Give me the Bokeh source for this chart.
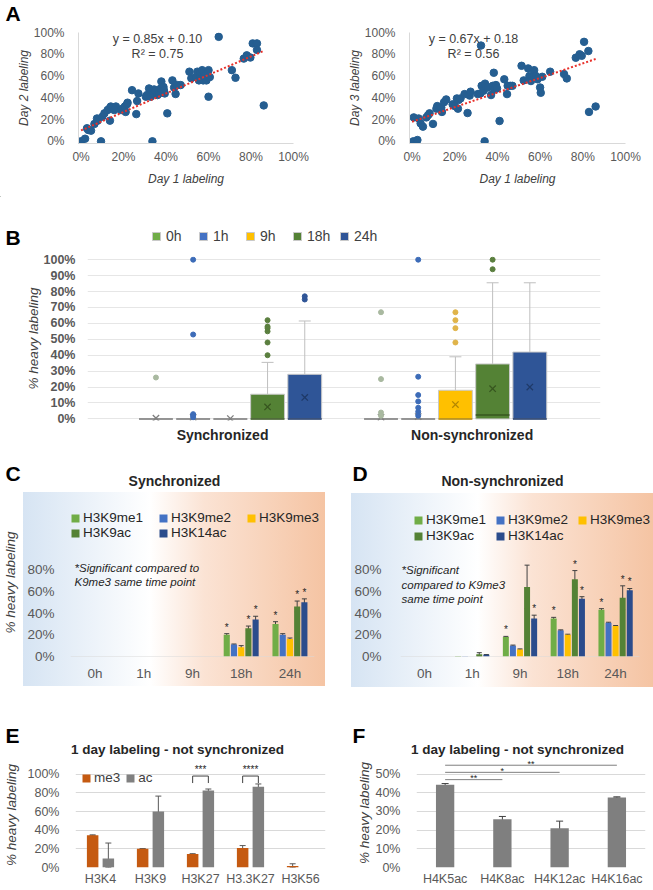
from bokeh.plotting import figure
from bokeh.layouts import column, row
from bokeh.models import (Range1d, ColumnDataSource, Label, Legend, LegendItem,
                          Whisker, TeeHead, NumeralTickFormatter, FixedTicker)
from bokeh.core.properties import value
from bokeh.embed import file_html
from bokeh.resources import INLINE

FONT = "Liberation Sans"
TICK = "#595959"

# ---------------- Panel A data ----------------
a1_day1 = [0, 1.9, 2.8, 3.4, 4.7, 6.3, 7.5, 7.8, 9.4, 10, 11, 12.5, 13.3, 14, 13.6, 14.8, 16.4, 15.6,
           18.8, 19.5, 20.6, 21.6, 21.9, 21, 24, 26, 26.4, 27, 30.5, 31, 32, 32.8, 33.6, 34, 34.4, 35,
           36, 36.7, 37.5, 37.8, 38.8, 39, 39.4, 40.6, 43, 43.8, 44.5, 45.3, 46.9, 51, 51.9, 54, 54.7,
           55.5, 56, 56.3, 57, 57.5, 58, 59, 60, 60.6, 60, 64.8, 71, 72.7, 76.6, 78, 79.7, 80.8, 82.8,
           82.8, 86]
a1_day2 = [0, 2.4, 12, 10.4, 9.8, 16, 21, 19, 0, 22.6, 25.7, 28.7, 30, 32, 19, 31, 32, 28.7,
           28.7, 30, 32, 34, 35.5, 27, 47, 25, 37, 44, 41, 42.5, 48.6, 41, 0, 44, 47.7, 46.5,
           42.5, 44, 48.6, 55, 50, 47, 44, 25.7, 56, 49.5, 43.5, 51.7, 51.7, 64, 58, 59, 64,
           56, 61, 64, 65.4, 56, 60, 56, 65.4, 59, 41, 96, 65.4, 58.4, 76, 79, 77, 90, 90,
           84, 33]
a1_slope, a1_icpt, a1_r2 = 0.85, 0.10, 0.75

a2_day1 = [0.8, 0.6, 2.5, 3.1, 4, 5.1, 6.7, 7.5, 8.2, 9.8, 11.4, 11.8, 12.9, 13.7, 14, 15, 16, 19,
           20, 21, 21.8, 21.5, 22.7, 24.6, 26, 27, 27.4, 30.8, 32, 32.3, 32.6, 33.5, 34, 34.2, 34.7,
           35.5, 37, 37.8, 38.3, 38.6, 39.3, 39.8, 41, 43.2, 44.5, 44.8, 46, 47, 51.3, 52.3, 54.4,
           55, 55.7, 57, 57.2, 58, 58.8, 60, 60.3, 61, 64.7, 71.2, 72.5, 76.7, 78.5, 79.5, 80.6,
           82.6, 82.9, 86]
a2_day3 = [22, 0, 1.2, 21, 16.5, 13.5, 22, 24, 25.7, 16, 30, 32.4, 31, 31, 27, 36, 38.5, 34,
           32.4, 39.4, 38, 30, 39.4, 43.4, 26, 42, 45.6, 43.4, 44, 88, 51, 46.5, 0, 53, 50,
           49.5, 42.5, 51, 63, 47.7, 51.7, 48.6, 18.7, 57, 43.4, 51, 51, 51, 69.4, 56, 67,
           60, 55.4, 60, 65.4, 60, 57, 49.5, 44.6, 59.3, 64, 61.8, 57.8, 76.8, 80, 78.6, 91.4,
           83, 27, 32]
a2_slope, a2_icpt, a2_r2 = 0.67, 0.18, 0.56
pct_ticks = [0, 0.2, 0.4, 0.6, 0.8, 1.0]

# ---------------- Panel B data ----------------
b_series = ["0h", "1h", "9h", "18h", "24h"]
b_groups = ["Synchronized", "Non-synchronized"]
b_colors = ["#70AD47", "#4472C4", "#FFC000", "#548235", "#2F5597"]
b_dark = ["#4e7a32", "#2f5597", "#b38600", "#37561f", "#1f3a68"]
b_out_colors = ["#a9b9a0", "#3d6cb8", "#e0b44a", "#5b7f3f", "#2f5597"]
sync_q1 = [0, 0, 0, 0, 0]
sync_median = [0, 0, 0, 0, 0]
sync_q3 = [0, 0, 0, 0.155, 0.28]
sync_hi = [0, 0, 0, 0.355, 0.615]
sync_mean = [0.005, 0.01, 0.002, 0.075, 0.135]
sync_outliers = [[0.26], [1.0, 0.53, 0.03, 0.02, 0.01], [], [0.40, 0.48, 0.55, 0.57, 0.58, 0.62], [0.75, 0.77]]
nons_q1 = [0, 0, 0, 0, 0]
nons_median = [0, 0, 0, 0.025, 0]
nons_q3 = [0, 0, 0.18, 0.345, 0.42]
nons_hi = [0, 0, 0.39, 0.855, 0.855]
nons_mean = [0.01, 0.015, 0.09, 0.19, 0.20]
nons_outliers = [[0.67, 0.25, 0.04, 0.02], [1.0, 0.265, 0.15, 0.11, 0.07, 0.045, 0.02],
                 [0.48, 0.57, 0.62, 0.67], [0.94, 1.0], []]
b_ticks = [round(x / 10, 1) for x in range(11)]

# ---------------- Panels C / D data ----------------
cd_times = ["0h", "1h", "9h", "18h", "24h"]
cd_marks = ["H3K9me1", "H3K9me2", "H3K9me3", "H3K9ac", "H3K14ac"]
cd_colors = ["#70AD47", "#4472C4", "#FFC000", "#548235", "#2B4C8C"]
c_vals = [[0, 0, 0, 0.20, 0.30],
          [0, 0, 0, 0.11, 0.20],
          [0, 0, 0, 0.085, 0.16],
          [0, 0, 0, 0.26, 0.46],
          [0, 0, 0, 0.34, 0.50]]
c_errs = [[0, 0, 0, 0.01, 0.02],
          [0, 0, 0, 0.005, 0.01],
          [0, 0, 0, 0.015, 0.01],
          [0, 0, 0, 0.02, 0.05],
          [0, 0, 0, 0.03, 0.03]]
c_sig = [[0, 0, 0, 1, 1], [0, 0, 0, 0, 0], [0, 0, 0, 0, 0], [0, 0, 0, 1, 1], [0, 0, 0, 1, 1]]
d_vals = [[0, 0.005, 0.18, 0.35, 0.43],
          [0, 0.003, 0.10, 0.24, 0.31],
          [0, 0.001, 0.065, 0.20, 0.28],
          [0, 0.02, 0.64, 0.71, 0.54],
          [0, 0.015, 0.35, 0.53, 0.61]]
d_errs = [[0, 0, 0.005, 0.01, 0.01],
          [0, 0, 0.005, 0.005, 0.005],
          [0, 0, 0.005, 0.005, 0.005],
          [0, 0.015, 0.20, 0.08, 0.11],
          [0, 0.003, 0.03, 0.02, 0.015]]
d_sig = [[0, 0, 1, 1, 1], [0, 0, 0, 0, 0], [0, 0, 0, 0, 0], [0, 0, 0, 1, 1], [0, 0, 1, 1, 1]]
cd_ticks = [0, 0.2, 0.4, 0.6, 0.8]

# ---------------- Panel E data ----------------
e_marks = ["H3K4", "H3K9", "H3K27", "H3.3K27", "H3K56"]
e_me3 = [0.345, 0.20, 0.144, 0.21, 0.015]
e_me3_err = [0.005, 0.003, 0.004, 0.025, 0.025]
e_ac = [0.097, 0.60, 0.826, 0.865, 0.0]
e_ac_err = [0.165, 0.165, 0.015, 0.03, 0.0]
e_brk_idx = [2, 3]
e_brk_text = ["***", "****"]
e_brk_top, e_brk_low = 0.98, 0.905
e_ticks = [0, 0.2, 0.4, 0.6, 0.8, 1.0]

# ---------------- Panel F data ----------------
f_marks = ["H4K5ac", "H4K8ac", "H4K12ac", "H4K16ac"]
f_vals = [0.443, 0.258, 0.21, 0.375]
f_errs = [0.006, 0.015, 0.038, 0.003]
f_cmp_to = [3, 2, 1]
f_cmp_y = [0.547, 0.509, 0.47]
f_cmp_text = ["**", "*", "**"]
f_ticks = [0, 0.1, 0.2, 0.3, 0.4, 0.5]


def base_fig(w, h, l, r, t, b, xr, yr):
    p = figure(width=w, height=h, x_range=xr, y_range=yr, output_backend="svg",
               toolbar_location=None, min_border_left=l, min_border_right=r,
               min_border_top=t, min_border_bottom=b)
    p.outline_line_color = None
    p.grid.grid_line_color = None
    for ax in p.axis:
        ax.major_tick_line_color = None
        ax.minor_tick_line_color = None
        ax.axis_line_color = None
        ax.major_label_text_font = FONT
        ax.major_label_text_color = TICK
        ax.axis_label_text_font = FONT
    return p


def header(top, h):
    # strip whose data coordinates are page pixels (x from left, y from the page top)
    p = figure(width=653, height=h, output_backend="svg", toolbar_location=None,
               x_axis_location=None, y_axis_location=None, min_border=0,
               min_border_left=0, min_border_right=0, min_border_top=0, min_border_bottom=0,
               x_range=Range1d(0, 653), y_range=Range1d(top + h, top))
    p.outline_line_color = None
    p.grid.grid_line_color = None
    return p


def htext(p, text, x, y, size, style="bold", align="center", baseline="middle",
          color="#262626"):
    p.text([x], [y], text=[text], text_font=value(FONT), text_font_size=size,
           text_font_style=style, text_align=align, text_baseline=baseline, text_color=color)


def letter(p, text, x, y):
    htext(p, text, x, y, "21px", align="left", baseline="top", color="#000000")


def lab(p, text, rx, ry, fl, fb, size, style="normal", align="center", baseline="middle",
        color="#262626"):
    p.add_layout(Label(x=rx - fl, y=fb - ry, x_units="screen", y_units="screen", text=text,
                       text_font=FONT, text_font_size=size, text_font_style=style,
                       text_align=align, text_baseline=baseline, text_color=color))


# ================= Panel A =================
ha = header(0, 25)
letter(ha, "A", 5, 1)


def scatter_panel(w, l, r, xs, ys, slope, icpt, r2, ylab, fl, eq_x):
    p = base_fig(w, 171, l, r, 7, 53, Range1d(-0.012, 1.0), Range1d(-0.02, 1.0))
    xv = [v / 100 for v in xs]
    yv = [v / 100 for v in ys]
    p.scatter(xv, yv, size=7.5, color="#255e91", line_color="#255e91")
    xmax = max(xv)
    p.line([0, xmax], [icpt, slope * xmax + icpt], line_color="#e8302a", line_width=2,
           line_dash="2 2")
    for ax in (p.xaxis[0], p.yaxis[0]):
        ax.ticker = FixedTicker(ticks=pct_ticks)
        ax.formatter = NumeralTickFormatter(format="0%")
        ax.axis_line_color = "#d9d9d9"
        ax.major_label_text_font_size = "12px"
        ax.axis_label_text_font_size = "12px"
        ax.axis_label_text_font_style = "italic"
        ax.axis_label_text_color = "#404040"
    p.xaxis.major_label_standoff = 0
    p.xaxis.axis_label = "Day 1 labeling"
    p.xaxis.axis_label_standoff = 5
    p.yaxis.major_label_standoff = 8
    p.yaxis.axis_label = ylab
    p.yaxis.axis_label_standoff = 0
    fb = 143
    lab(p, "y = %.2fx + %.2f" % (slope, icpt), eq_x, 38, fl, fb, "12.5px", color="#404040")
    lab(p, "R\u00b2 = %.2f" % r2, eq_x, 53, fl, fb, "12.5px", color="#404040")
    return p


pa1 = scatter_panel(320, 78, 27, a1_day1, a1_day2, a1_slope, a1_icpt, a1_r2,
                    "Day 2 labeling", 78, 157)
pa2 = scatter_panel(333, 89, 28, a2_day1, a2_day3, a2_slope, a2_icpt, a2_r2,
                    "Day 3 labeling", 409, 473)

# ================= Panel B =================
hb = header(196, 56)
letter(hb, "B", 5, 225)
b_group_start = [1.84, 7.89]
b_label_pos = [3.63, 10.34]
b_box_w = 0.91
pb = base_fig(653, 203, 87, 53, 4, 35, Range1d(0, 13.79), Range1d(-0.01, 1.02))
pb.yaxis.ticker = FixedTicker(ticks=b_ticks)
pb.yaxis.formatter = NumeralTickFormatter(format="0%")
pb.yaxis.major_label_text_font_style = "bold"
pb.yaxis.major_label_text_font_size = "12.5px"
pb.yaxis.major_label_standoff = 6
pb.yaxis.axis_label = "% heavy labeling"
pb.yaxis.axis_label_text_font_style = "italic"
pb.yaxis.axis_label_text_font_size = "13.5px"
pb.yaxis.axis_label_text_color = "#404040"
pb.yaxis.axis_label_standoff = 0
pb.ygrid.grid_line_color = "#e6e6e6"
pb.xaxis.ticker = FixedTicker(ticks=b_label_pos)
pb.xaxis.major_label_overrides = {b_label_pos[i]: b_groups[i] for i in range(2)}
pb.xaxis.major_label_text_font_size = "14px"
pb.xaxis.major_label_text_font_style = "bold"
pb.xaxis.major_label_text_color = "#262626"
pb.xaxis.major_label_standoff = 0

stats = [(sync_q1, sync_median, sync_q3, sync_hi, sync_mean, sync_outliers),
         (nons_q1, nons_median, nons_q3, nons_hi, nons_mean, nons_outliers)]
b_items = []
for si, sname in enumerate(b_series):
    xs, bots, tops, meds, means, hx, hlo, hhi, ox, oy = [], [], [], [], [], [], [], [], [], []
    for gi in range(2):
        q1, med, q3, hi, mean, outs = stats[gi]
        x = b_group_start[gi] + si
        xs.append(x)
        bots.append(q1[si]); tops.append(q3[si]); meds.append(med[si]); means.append(mean[si])
        if hi[si] > q3[si]:
            hx.append(x); hlo.append(q3[si]); hhi.append(hi[si])
        for o in outs[si]:
            ox.append(x); oy.append(o)
    flat = [tops[k] <= bots[k] for k in range(2)]
    mcol = ["#7f7f7f" if f else b_dark[si] for f in flat]
    src = ColumnDataSource(dict(x=xs, bottom=bots, top=tops, med=meds, mean=means, mcol=mcol,
                                x0=[x - b_box_w / 2 for x in xs], x1=[x + b_box_w / 2 for x in xs]))
    if hx:
        wsrc = ColumnDataSource(dict(base=hx, lower=hlo, upper=hhi))
        pb.add_layout(Whisker(base="base", lower="lower", upper="upper", source=wsrc,
                              line_color="#bfbfbf", line_width=1,
                              upper_head=TeeHead(size=12, line_color="#bfbfbf", line_width=1),
                              lower_head=None))
    pb.vbar(x="x", bottom="bottom", top="top", width=b_box_w, source=src,
            fill_color=b_colors[si], line_color="#c9c9c9", line_width=1)
    pb.segment(x0="x0", x1="x1", y0="med", y1="med", line_color="mcol", line_width=1.5, source=src)
    pb.scatter(x="x", y="mean", marker="x", size=9, line_width=1.3, line_color="mcol", source=src)
    if ox:
        pb.scatter(ox, oy, size=5, color=b_out_colors[si])
    # legend swatch (same style as the boxes), kept outside the visible area of the header strip
    sw = hb.vbar(x=[-50], bottom=[-50], top=[-40], width=1, fill_color=b_colors[si],
                 line_color="#c9c9c9")
    b_items.append(LegendItem(label=sname, renderers=[sw]))

b_leg = Legend(items=b_items, orientation="horizontal", location=(151, 252 - 244),
               glyph_width=10, glyph_height=10, label_standoff=5, label_width=24, spacing=8,
               label_text_font=FONT, label_text_font_size="14px", label_text_color="#404040",
               label_height=15, padding=0, margin=0, border_line_color=None,
               background_fill_alpha=0)
hb.add_layout(b_leg)

# ================= Panels C & D =================
hcd = header(455, 35)
letter(hcd, "C", 5, 461)
letter(hcd, "D", 352, 461)
htext(hcd, "Synchronized", 174, 480, "14px")
htext(hcd, "Non-synchronized", 502, 480, "14px")


def bar_panel(w, l, r, xmax, vals, errs, sig, fl, bg_pos, ylab, note_lines, note_x, note_y,
              leg_x, leg_rows_y, leg_spacing):
    p = base_fig(w, 222, l, r, 18, 56, Range1d(-0.5, xmax), Range1d(0, 1.361))
    p.border_fill_alpha = 0
    p.background_fill_alpha = 0
    p.styles = {"background-image": "linear-gradient(to right, #d6e4f3 0%, #ffffff 42%, "
                                    "#fbe3d4 60%, #f5c4a3 100%)",
                "background-repeat": "no-repeat",
                "background-position": bg_pos,
                "background-size": "302px 194px"}
    p.yaxis.ticker = FixedTicker(ticks=cd_ticks)
    p.yaxis.formatter = NumeralTickFormatter(format="0%")
    p.yaxis.major_label_text_font_size = "13.5px"
    p.yaxis.major_label_standoff = 10 if ylab else 13
    if ylab:
        p.yaxis.axis_label = ylab
        p.yaxis.axis_label_text_font_style = "italic"
        p.yaxis.axis_label_text_font_size = "13.5px"
        p.yaxis.axis_label_text_color = "#404040"
        p.yaxis.axis_label_standoff = 6
    p.xaxis.ticker = FixedTicker(ticks=list(range(5)))
    p.xaxis.major_label_overrides = {i: cd_times[i] for i in range(5)}
    p.xaxis.major_label_text_font_size = "13.5px"
    p.xaxis.major_label_standoff = 3
    p.xaxis.axis_line_color = None
    pitch, bw = 0.148, 0.125
    p.segment(x0=[-0.5], x1=[4.5], y0=[0], y1=[0], line_color="#d9d9d9", line_width=1)
    rends = []
    for mi in range(5):
        xs = [t + (mi - 2) * pitch for t in range(5)]
        rends.append(p.vbar(x=xs, top=vals[mi], width=bw, fill_color=cd_colors[mi],
                            line_color=None))
        ex = [xs[t] for t in range(5) if errs[mi][t] > 0]
        el = [vals[mi][t] - errs[mi][t] for t in range(5) if errs[mi][t] > 0]
        eu = [vals[mi][t] + errs[mi][t] for t in range(5) if errs[mi][t] > 0]
        if ex:
            p.add_layout(Whisker(base="b", lower="lo", upper="up",
                                 source=ColumnDataSource(dict(b=ex, lo=el, up=eu)),
                                 line_color="#404040", line_width=1,
                                 upper_head=TeeHead(size=5, line_color="#404040", line_width=1),
                                 lower_head=TeeHead(size=5, line_color="#404040", line_width=1)))
        sx = [xs[t] for t in range(5) if sig[mi][t]]
        sy = [vals[mi][t] + errs[mi][t] + 0.01 for t in range(5) if sig[mi][t]]
        if sx:
            p.text(sx, sy, text=["*"] * len(sx), text_font_size="10px", text_align="center",
                   text_baseline="bottom", text_color="#262626")
    fb = 656
    rows = [[0, 1, 2], [3, 4]]
    for ri, idxs in enumerate(rows):
        leg = Legend(items=[LegendItem(label=cd_marks[i], renderers=[rends[i]]) for i in idxs],
                     orientation="horizontal", location=(leg_x - fl, fb - leg_rows_y[ri] - 7),
                     glyph_width=10, glyph_height=10, label_standoff=3, label_width=61,
                     spacing=leg_spacing, label_text_font=FONT, label_text_font_size="13.5px",
                     label_text_color="#262626", label_height=14, padding=0, margin=0,
                     border_line_color=None, background_fill_alpha=0)
        p.add_layout(leg)
    for k, line in enumerate(note_lines):
        lab(p, line, note_x, note_y[k], fl, fb, "11.5px", style="italic", align="left",
            color="#262626")
    return p


pc = bar_panel(330, 69, 3, 4.77, c_vals, c_errs, c_sig, 69, "23px 2px",
               "% heavy labeling", ["*Significant compared to", "K9me3 same time point"],
               73, [567, 581], 69, [518, 533], 14)
pd = bar_panel(323, 70, 1, 4.772, d_vals, d_errs, d_sig, 400, "21px 3px",
               None, ["*Significant", "compared to K9me3", "same time point"],
               401, [569, 584, 598], 413, [520, 536], 8)

# ================= Panel E =================
hef = header(712, 46)
letter(hef, "E", 5, 723)
letter(hef, "F", 352, 723)
htext(hef, "1 day labeling - not synchronized", 177, 749, "13.5px")
htext(hef, "1 day labeling - not synchronized", 517, 749, "13.5px")

pe = base_fig(330, 130, 70, 5, 4, 18, Range1d(-0.5, 4.5), Range1d(0, 1.125))
pe.yaxis.ticker = FixedTicker(ticks=e_ticks)
pe.yaxis.formatter = NumeralTickFormatter(format="0%")
pe.yaxis.major_label_text_font_size = "12.5px"
pe.yaxis.major_label_standoff = 10
pe.yaxis.axis_label = "% heavy labeling"
pe.yaxis.axis_label_text_font_style = "italic"
pe.yaxis.axis_label_text_font_size = "13.5px"
pe.yaxis.axis_label_text_color = "#404040"
pe.yaxis.axis_label_standoff = 6
pe.ygrid.grid_line_color = "#d9d9d9"
pe.xaxis.ticker = FixedTicker(ticks=list(range(5)))
pe.xaxis.major_label_overrides = {i: e_marks[i] for i in range(5)}
pe.xaxis.major_label_text_font_size = "12.5px"
pe.xaxis.major_label_standoff = -2
e_off, e_w = 0.157, 0.23
e_rends = []
for vals, errs, col, off in ((e_me3, e_me3_err, "#C55A11", -e_off), (e_ac, e_ac_err, "#808080", e_off)):
    xs = [i + off for i in range(5)]
    e_rends.append(pe.vbar(x=xs, top=vals, width=e_w, fill_color=col, line_color=None))
    ex = [xs[i] for i in range(5) if errs[i] > 0]
    pe.add_layout(Whisker(base="b", lower="lo", upper="up",
                          source=ColumnDataSource(dict(
                              b=ex,
                              lo=[max(vals[i] - errs[i], 0) for i in range(5) if errs[i] > 0],
                              up=[vals[i] + errs[i] for i in range(5) if errs[i] > 0])),
                          line_color="#595959", line_width=1,
                          upper_head=TeeHead(size=6, line_color="#595959", line_width=1),
                          lower_head=TeeHead(size=6, line_color="#595959", line_width=1)))
bx0 = [i - e_off for i in e_brk_idx]
bx1 = [i + e_off for i in e_brk_idx]
pe.multi_line([[bx0[k], bx0[k], bx1[k], bx1[k]] for k in range(2)],
              [[e_brk_low, e_brk_top, e_brk_top, e_brk_low] for _ in range(2)],
              line_color="#404040", line_width=1)
pe.text(e_brk_idx, [e_brk_top + 0.015] * 2, text=e_brk_text, text_font_size="10px",
        text_align="center", text_baseline="bottom", text_color="#262626")
e_leg = Legend(items=[LegendItem(label="me3", renderers=[e_rends[0]]),
                      LegendItem(label="ac", renderers=[e_rends[1]])],
               orientation="horizontal", location=(6, 870 - 781 - 7), glyph_width=10,
               glyph_height=10, label_standoff=3, label_width=0, spacing=5,
               label_text_font=FONT, label_text_font_size="13.5px", label_text_color="#404040",
               label_height=14, padding=0, margin=0, border_line_color=None,
               background_fill_alpha=0)
pe.add_layout(e_leg)

# ================= Panel F =================
pf = base_fig(323, 130, 86, 8, 0, 18, Range1d(-0.5, 3.5), Range1d(0, 0.583))
pf.yaxis.ticker = FixedTicker(ticks=f_ticks)
pf.yaxis.formatter = NumeralTickFormatter(format="0%")
pf.yaxis.major_label_text_font_size = "12.5px"
pf.yaxis.major_label_standoff = 10
pf.yaxis.axis_label = "% heavy labeling"
pf.yaxis.axis_label_text_font_style = "italic"
pf.yaxis.axis_label_text_font_size = "13.5px"
pf.yaxis.axis_label_text_color = "#404040"
pf.yaxis.axis_label_standoff = 0
pf.ygrid.grid_line_color = "#d9d9d9"
pf.xaxis.ticker = FixedTicker(ticks=list(range(4)))
pf.xaxis.major_label_overrides = {i: f_marks[i] for i in range(4)}
pf.xaxis.major_label_text_font_size = "12.5px"
pf.xaxis.major_label_standoff = -2
fx = list(range(4))
pf.vbar(x=fx, top=f_vals, width=0.32, fill_color="#7F7F7F", line_color=None)
pf.add_layout(Whisker(base="b", lower="lo", upper="up",
                      source=ColumnDataSource(dict(b=fx,
                                                   lo=[f_vals[i] - f_errs[i] for i in fx],
                                                   up=[f_vals[i] + f_errs[i] for i in fx])),
                      line_color="#404040", line_width=1,
                      upper_head=TeeHead(size=7, line_color="#404040", line_width=1),
                      lower_head=TeeHead(size=7, line_color="#404040", line_width=1)))
pf.segment(x0=[0] * 3, x1=f_cmp_to, y0=f_cmp_y, y1=f_cmp_y, line_color="#7f7f7f", line_width=1)
pf.text([t / 2 for t in f_cmp_to], [y - 0.02 for y in f_cmp_y], text=f_cmp_text,
        text_font_size="9px", text_align="center", text_baseline="bottom", text_color="#262626")

# each figure is wrapped in its own row/column so that Bokeh does not align the plot frames
layout = column(row(ha),
                row(column(pa1), column(pa2)),
                row(hb),
                row(pb),
                row(hcd),
                row(column(pc), column(pd)),
                row(hef),
                row(column(pe), column(pf)))
open("out.html", "w").write(file_html(layout, INLINE))
